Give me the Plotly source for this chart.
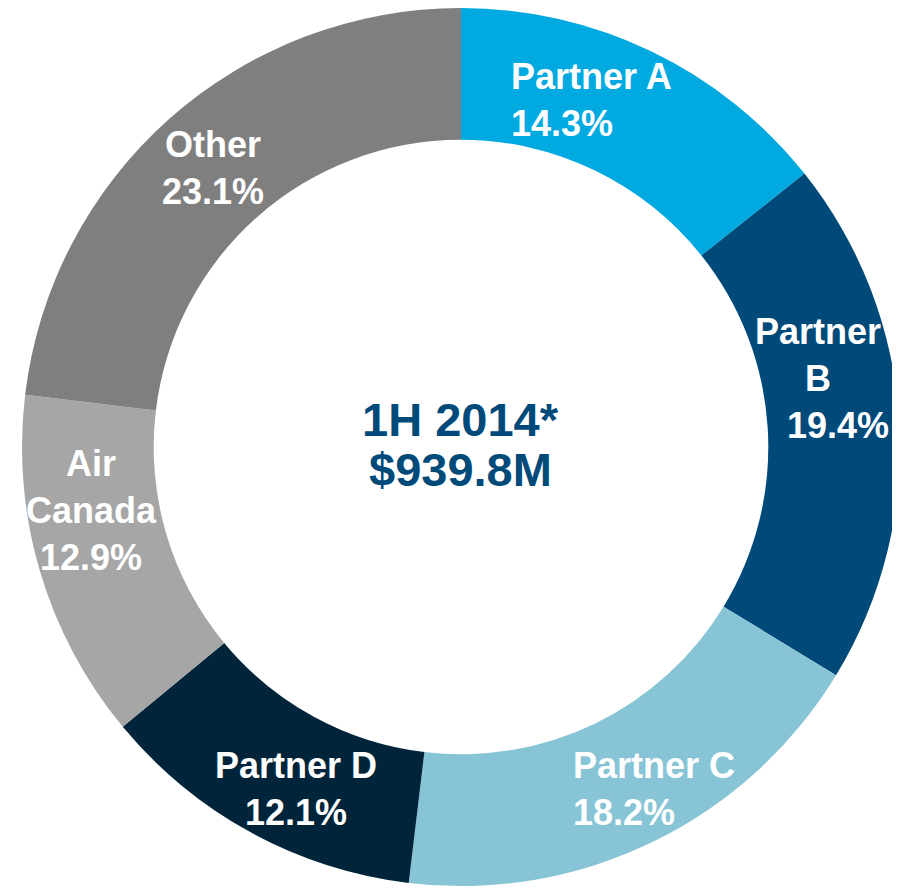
import math
import plotly.graph_objects as go

# ---- data ----
labels = ["Partner A", "Partner B", "Partner C", "Partner D", "Air Canada", "Other"]
label_text = ["Partner A", "Partner<br>B", "Partner C", "Partner D", "Air<br>Canada", "Other"]
shares = [14.3, 19.4, 18.2, 12.1, 12.9, 23.1]
center_title = "1H 2014*"
center_total = "$939.8M"

# ---- style ----
colors = ["#00A9E0", "#004A7A", "#87C4D6", "#00253B", "#A6A6A6", "#7F7F7F"]
W, H = 900, 889
CX, CY = 453, 439          # pie centre in figure pixels (page body has an 8px margin)
R = 439                    # outer radius in pixels
R_LABEL = 375              # label radius in pixels
# per-label nudges (pixels) and line alignment
nudge = [(-32, -9), (-17, -45), (29, 5), (15, 13), (-10, -42), (1, 2)]
aligns = ["left", "center", "left", "center", "center", "center"]
pct_prefix = ["", "\u00a0\u00a0\u00a0\u00a0", "", "", "", ""]
FONT = "Liberation Sans, Arial, sans-serif"

fig = go.Figure(
    go.Pie(
        labels=labels,
        values=shares,
        hole=0.70,
        sort=False,
        direction="clockwise",
        rotation=0,
        marker=dict(colors=colors, line=dict(color="white", width=0)),
        textinfo="none",
        showlegend=False,
        domain=dict(
            x=[(CX - R) / W, (CX + R) / W],
            y=[max(0.0, 1 - (CY + R) / H), min(1.0, 1 - (CY - R) / H)],
        ),
    )
)

annotations = []
total = sum(shares)
cum = 0.0
for i, v in enumerate(shares):
    mid = (cum + v / 2) / total * 2 * math.pi
    cum += v
    px = CX + R_LABEL * math.sin(mid)
    py = CY - R_LABEL * math.cos(mid)
    dx, dy = nudge[i]
    annotations.append(
        dict(
            x=px / W,
            y=1 - py / H,
            xref="paper",
            yref="paper",
            text=f"<b>{label_text[i]}<br>{pct_prefix[i]}{v:.1f}%</b>",
            showarrow=False,
            xanchor="center",
            yanchor="middle",
            align=aligns[i],
            xshift=dx,
            yshift=-dy,
            font=dict(family=FONT, size=36, color="white"),
        )
    )

for txt, py in [(center_title, 411), (center_total, 461)]:
    annotations.append(
        dict(
            x=CX / W,
            y=1 - py / H,
            xref="paper",
            yref="paper",
            text=f"<b>{txt}</b>",
            showarrow=False,
            xanchor="center",
            yanchor="middle",
            font=dict(family=FONT, size=47, color="#004A7A"),
        )
    )

fig.update_layout(
    width=W,
    height=H,
    margin=dict(l=0, r=0, t=0, b=0),
    paper_bgcolor="white",
    plot_bgcolor="white",
    annotations=annotations,
)

fig.write_html("out.html")
